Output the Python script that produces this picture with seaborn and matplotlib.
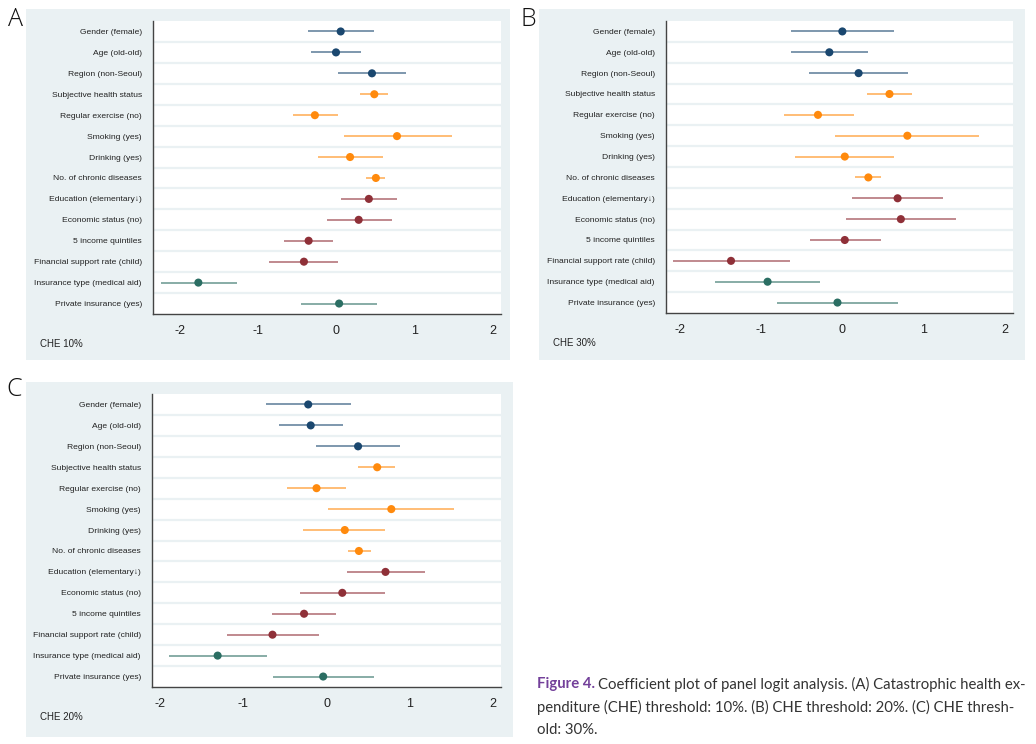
import numpy as np
import pandas as pd
import matplotlib
matplotlib.use("Agg")
import matplotlib.pyplot as plt
import seaborn as sns

sns.set_theme(style="white")
plt.rcParams['font.family'] = ['Liberation Sans', 'DejaVu Sans']

variables = ["Gender (female)", "Age (old-old)", "Region (non-Seoul)",
             "Subjective health status", "Regular exercise (no)", "Smoking (yes)",
             "Drinking (yes)", "No. of chronic diseases", "Education (elementary\u2193)",
             "Economic status (no)", "5 income quintiles", "Financial support rate (child)",
             "Insurance type (medical aid)", "Private insurance (yes)"]
groups = ["demo", "demo", "demo", "health", "health", "health", "health", "health",
          "ses", "ses", "ses", "ses", "ins", "ins"]

# Panel A: CHE 10%
coef_a = [0.06, 0.00, 0.46, 0.49, -0.27, 0.78, 0.18, 0.51, 0.42, 0.29, -0.35, -0.41, -1.76, 0.04]
lo_a = [-0.36, -0.32, 0.03, 0.31, -0.55, 0.10, -0.23, 0.39, 0.06, -0.12, -0.66, -0.86, -2.24, -0.45]
hi_a = [0.49, 0.32, 0.89, 0.67, 0.02, 1.48, 0.60, 0.63, 0.78, 0.72, -0.04, 0.03, -1.27, 0.52]

# Panel B: CHE 30%
coef_b = [0.00, -0.16, 0.20, 0.58, -0.30, 0.80, 0.03, 0.32, 0.68, 0.72, 0.03, -1.37, -0.92, -0.06]
lo_b = [-0.63, -0.63, -0.41, 0.30, -0.72, -0.09, -0.58, 0.16, 0.12, 0.04, -0.40, -2.09, -1.57, -0.80]
hi_b = [0.63, 0.31, 0.81, 0.86, 0.14, 1.68, 0.64, 0.47, 1.24, 1.40, 0.47, -0.65, -0.27, 0.68]

# Panel C: CHE 20%
coef_c = [-0.22, -0.19, 0.38, 0.61, -0.12, 0.78, 0.22, 0.39, 0.71, 0.19, -0.27, -0.65, -1.31, -0.04]
lo_c = [-0.73, -0.57, -0.13, 0.38, -0.48, 0.02, -0.28, 0.26, 0.25, -0.32, -0.65, -1.20, -1.89, -0.64]
hi_c = [0.30, 0.20, 0.89, 0.83, 0.24, 1.54, 0.71, 0.53, 1.18, 0.71, 0.12, -0.09, -0.72, 0.57]

x_ticks = [-2, -1, 0, 1, 2]
palette = {"demo": "#1a476f", "health": "#ff8a0d", "ses": "#8f3038", "ins": "#2b6e63"}

W, H = 1036, 744
fig = plt.figure(figsize=(W / 100, H / 100), dpi=100)
BG = "#eaf1f3"


def px_axes(x0, y0, x1, y1, **kw):
    return fig.add_axes([x0 / W, 1 - y1 / H, (x1 - x0) / W, (y1 - y0) / H], **kw)


def panel(bg_box, ax_box, xlim, coef, lo, hi, letter, letter_xy, note):
    bgax = px_axes(*bg_box)
    bgax.set_facecolor(BG)
    bgax.set_xticks([]); bgax.set_yticks([])
    for s in bgax.spines.values():
        s.set_visible(False)
    bgax.set_zorder(0)

    ax = px_axes(*ax_box)
    ax.set_zorder(1)
    ax.set_facecolor("white")
    df = pd.DataFrame({"var": variables, "pos": np.arange(len(variables)),
                       "coef": coef, "lo": lo, "hi": hi, "grp": groups})
    for g, sub in df.groupby("grp"):
        ax.hlines(sub["pos"], sub["lo"], sub["hi"], color=palette[g], alpha=0.72, lw=1.1, zorder=2)
    sns.scatterplot(data=df, x="coef", y="pos", hue="grp", palette=palette, s=34,
                    edgecolor="none", legend=False, ax=ax, zorder=3)
    for k in range(len(variables) - 1):
        ax.axhline(k + 0.5, color=BG, lw=1.6, zorder=1)
    ax.set_ylim(len(variables) - 0.5, -0.5)
    ax.set_xlim(*xlim)
    ax.set_yticks(df["pos"])
    ax.set_yticklabels(variables, fontsize=6.1)
    ax.set_xticks(x_ticks)
    ax.set_xticklabels([str(t) for t in x_ticks], fontsize=9)
    ax.set_xlabel(""); ax.set_ylabel("")
    ax.tick_params(axis="y", length=5, width=0.8, pad=3, colors="#333333", labelcolor="#222222")
    ax.tick_params(axis="x", length=5, width=0.8, pad=3, colors="#333333", labelcolor="#222222")
    for side in ["top", "right"]:
        ax.spines[side].set_visible(False)
    for side in ["left", "bottom"]:
        ax.spines[side].set_color("#444444")
        ax.spines[side].set_linewidth(1.0)
    fig.text(note[0] / W, 1 - note[1] / H, note[2], fontsize=7, color="#222222",
             ha="left", va="center")
    fig.text(letter_xy[0] / W, 1 - letter_xy[1] / H, letter, fontsize=18,
             family=["Open Sans", "DejaVu Sans"], fontweight="light",
             color="#111111", ha="center", va="center")


panel((26, 9, 510, 360), (153, 21, 501, 314), (-2.34, 2.11), coef_a, lo_a, hi_a,
      "A", (15, 19), (40, 344, "CHE 10%"))
panel((539, 9, 1025, 360), (666, 21, 1013, 313), (-2.17, 2.10), coef_b, lo_b, hi_b,
      "B", (528, 19), (553, 343, "CHE 30%"))
panel((26, 382, 513, 737), (152, 394, 501, 687), (-2.10, 2.10), coef_c, lo_c, hi_c,
      "C", (14, 390), (40, 717, "CHE 20%"))

# Caption
cap_font = ["Lato", "DejaVu Sans"]
fs = 10.7
t1 = fig.text(537 / W, 1 - 684 / H, "Figure 4.", fontsize=fs, fontweight="bold",
              color="#73409a", family=cap_font, ha="left", va="center")
fig.canvas.draw()
bb = t1.get_window_extent(renderer=fig.canvas.get_renderer())
fig.text((bb.x1 + 3) / W, 1 - 684 / H,
         "Coefficient plot of panel logit analysis. (A) Catastrophic health ex-",
         fontsize=fs, color="#333333", family=cap_font, ha="left", va="center")
fig.text(537 / W, 1 - 707 / H,
         "penditure (CHE) threshold: 10%. (B) CHE threshold: 20%. (C) CHE thresh-",
         fontsize=fs, color="#333333", family=cap_font, ha="left", va="center")
fig.text(537 / W, 1 - 730 / H, "old: 30%.",
         fontsize=fs, color="#333333", family=cap_font, ha="left", va="center")

fig.savefig("out.png", dpi=100, facecolor="white")
